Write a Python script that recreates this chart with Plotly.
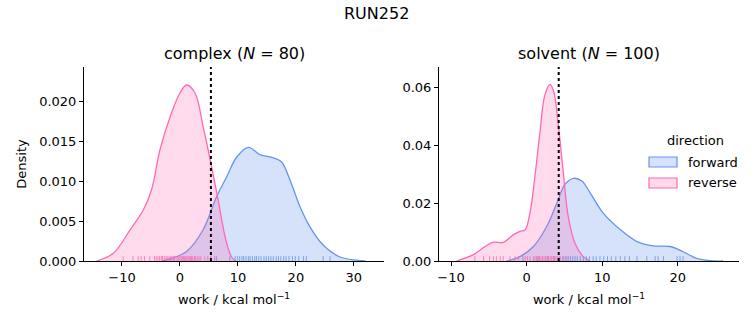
import plotly.graph_objects as go

# ---------------- data ----------------
# KDE curves: x positions and density values
cx_rev = [-14.4, -11.5, -8.6, -6.3, -4.9, -3.45, -1.7, 0.0, 1.15, 2.6, 4.0, 5.45, 6.6, 7.8, 8.9, 9.6]
cy_rev = [0.0, 0.00096, 0.0039, 0.0064, 0.0089, 0.0139, 0.018, 0.021, 0.022, 0.021, 0.0168, 0.0118, 0.0076, 0.003, 0.0005, 0.0]
cx_fwd = [-3.0, 1.15, 4.0, 6.3, 8.05, 9.8, 11.8, 13.8, 16.1, 17.5, 19.0, 20.7, 22.4, 24.7, 27.6, 30.5, 32.0]
cy_fwd = [0.0, 0.0012, 0.0039, 0.008, 0.0105, 0.013, 0.0142, 0.0133, 0.0129, 0.0124, 0.0101, 0.0068, 0.0043, 0.002, 0.0005, 0.0001, 0.0]

sx_rev = [-9.3, -7.1, -5.5, -4.4, -3.1, -1.8, -0.9, -0.2, 0.44, 1.1, 1.76, 2.4, 3.1, 3.6, 4.2, 4.85, 5.5, 6.4, 7.5, 8.4]
sy_rev = [0.0, 0.0021, 0.005, 0.0065, 0.0064, 0.009, 0.0102, 0.0108, 0.0166, 0.0293, 0.0444, 0.0571, 0.0609, 0.0583, 0.0467, 0.0305, 0.0154, 0.0061, 0.0015, 0.0]
sx_fwd = [-2.65, -0.9, 0.9, 2.65, 4.0, 5.07, 6.2, 7.3, 8.4, 10.1, 12.4, 14.6, 16.8, 19.0, 20.7, 22.5, 24.3, 26.0]
sy_fwd = [0.0, 0.0015, 0.005, 0.0119, 0.02, 0.0264, 0.0285, 0.0276, 0.0235, 0.0166, 0.0108, 0.0067, 0.0052, 0.005, 0.0032, 0.0009, 0.0001, 0.0]

# rug sample positions
rug_c_rev = [-9.8, -8.1, -7.2, -6.7, -6.1, -5.2, -4.4, -4.1, -3.8, -3.5, -3.2, -3.0, -2.7, -2.4, -2.2,
             -1.9, -1.6, -1.4, -1.1, -0.9, -0.5, -0.3, 0.0, 0.2, 0.4, 0.6, 0.8, 1.0, 1.2, 1.4, 1.6,
             1.8, 2.0, 2.2, 2.5, 2.7, 3.0, 3.3, 3.6, 4.3, 4.8, 5.3, 6.0]
rug_c_fwd = [6.3, 8.6, 9.5, 9.9, 10.3, 10.7, 11.0, 11.4, 11.8, 12.1, 12.5, 12.9, 13.2, 13.6, 14.0,
             14.5, 14.9, 15.3, 15.7, 16.1, 16.6, 17.0, 17.4, 17.9, 18.3, 18.8, 19.4, 19.9, 20.5,
             21.3, 21.8, 24.7, 25.9]
rug_s_rev = [-6.85, -5.7, -4.9, -4.4, -4.0, -3.5, -3.1, -2.2, -1.55, -1.1, -0.2, 0.1, 0.44, 0.9,
             1.1, 1.3, 1.5, 1.7, 1.9, 2.1, 2.3, 2.5, 2.7, 2.9, 3.1, 3.3, 3.5, 3.7, 3.9, 4.1, 4.4,
             4.8, 5.3]
rug_s_fwd = [-0.5, 1.5, 2.8, 3.6, 4.4, 4.8, 5.1, 5.5, 5.8, 6.1, 6.4, 6.7, 7.1, 7.5, 7.9, 8.3, 8.8,
             9.2, 9.7, 10.2, 10.7, 11.2, 11.8, 12.4, 13.0, 13.6, 14.6, 15.9, 17.0, 17.4, 18.1,
             19.9, 20.3, 20.7]

mean_complex = 5.34
mean_solvent = 4.24

directions = ["forward", "reverse"]
colors = {"forward": "#6495ED", "reverse": "#FF69B4"}
fills = {"forward": "rgba(100,149,237,0.27)", "reverse": "rgba(255,105,180,0.25)"}
rugcol = {"forward": "rgba(100,149,237,0.8)", "reverse": "rgba(255,105,180,0.8)"}

FONT = "DejaVu Sans"
W, H = 753, 325


def px_x(p):
    return p / W


def px_y(p):
    return 1 - p / H


fig = go.Figure()

panels = [
    ("x", "y", {"forward": (cx_fwd, cy_fwd), "reverse": (cx_rev, cy_rev)},
     {"forward": rug_c_fwd, "reverse": rug_c_rev}, mean_complex),
    ("x2", "y2", {"forward": (sx_fwd, sy_fwd), "reverse": (sx_rev, sy_rev)},
     {"forward": rug_s_fwd, "reverse": rug_s_rev}, mean_solvent),
]

shapes = []
for i, (xa, ya, curves, rugs, mean) in enumerate(panels):
    for d in directions:
        xs, ys = curves[d]
        fig.add_trace(go.Scatter(
            x=xs, y=ys, xaxis=xa, yaxis=ya, mode="lines",
            line=dict(color=colors[d], width=1.3, shape="spline", smoothing=1.0),
            fill="tozeroy", fillcolor=fills[d],
            name=d, showlegend=False,
        ))
    for d in directions:
        for v in rugs[d]:
            shapes.append(dict(type="line", xref=xa, yref=f"{ya} domain",
                               x0=v, x1=v, y0=0, y1=0.025,
                               line=dict(color=rugcol[d], width=1)))
    shapes.append(dict(type="line", xref=xa, yref=f"{ya} domain",
                       x0=mean, x1=mean, y0=0, y1=1,
                       line=dict(color="black", width=2, dash="dot")))

# manual legend (matplotlib-style patches)
annotations = [
    dict(text="RUN252", x=0.5, y=px_y(13), xref="paper", yref="paper", xanchor="center",
         yanchor="middle", showarrow=False, font=dict(size=16, family=FONT)),
    dict(text="complex (<i>N</i> = 80)", x=px_x(234), y=px_y(54), xref="paper", yref="paper",
         xanchor="center", yanchor="middle", showarrow=False, font=dict(size=16, family=FONT)),
    dict(text="solvent (<i>N</i> = 100)", x=px_x(589), y=px_y(54), xref="paper", yref="paper",
         xanchor="center", yanchor="middle", showarrow=False, font=dict(size=16, family=FONT)),
    dict(text="direction", x=px_x(695), y=px_y(141), xref="paper", yref="paper",
         xanchor="center", yanchor="middle", showarrow=False, font=dict(size=13, family=FONT)),
]
for k, d in enumerate(directions):
    top = 157 + 21 * k
    shapes.append(dict(type="rect", xref="paper", yref="paper",
                       x0=px_x(649), x1=px_x(677), y0=px_y(top + 10), y1=px_y(top),
                       fillcolor=fills[d], line=dict(color=colors[d], width=1.2)))
    annotations.append(dict(text=d, x=px_x(686), y=px_y(top + 5), xref="paper", yref="paper",
                            xanchor="left", yanchor="middle", showarrow=False,
                            font=dict(size=13, family=FONT)))

axis_common = dict(showline=True, linecolor="black", linewidth=1, ticks="outside",
                   ticklen=4, tickwidth=1, tickcolor="black", showgrid=False,
                   zeroline=False, automargin=False,
                   tickfont=dict(size=13, family=FONT, color="black"))

fig.update_layout(
    width=W, height=H, margin=dict(l=0, r=0, t=0, b=0),
    plot_bgcolor="white", paper_bgcolor="white",
    font=dict(family=FONT, color="black"),
    shapes=shapes, annotations=annotations, showlegend=False,
    xaxis=dict(domain=[px_x(84), px_x(384)], range=[-16.55, 35.2],
               tickvals=[-10, 0, 10, 20, 30], anchor="y",
               title=dict(text="work / kcal mol<sup>−1</sup>", font=dict(size=13), standoff=11),
               **axis_common),
    yaxis=dict(domain=[px_y(261), px_y(67)], range=[0, 0.02425],
               tickvals=[0, 0.005, 0.01, 0.015, 0.02], tickformat=".3f", anchor="x",
               title=dict(text="Density", font=dict(size=13), standoff=9),
               **axis_common),
    xaxis2=dict(domain=[px_x(439), px_x(739)], range=[-11.6, 28.1],
                tickvals=[-10, 0, 10, 20], anchor="y2",
                title=dict(text="work / kcal mol<sup>−1</sup>", font=dict(size=13), standoff=11),
                **axis_common),
    yaxis2=dict(domain=[px_y(261), px_y(67)], range=[0, 0.0669],
                tickvals=[0, 0.02, 0.04, 0.06], tickformat=".2f", anchor="x2",
                **axis_common),
)

fig.write_html("out.html")
